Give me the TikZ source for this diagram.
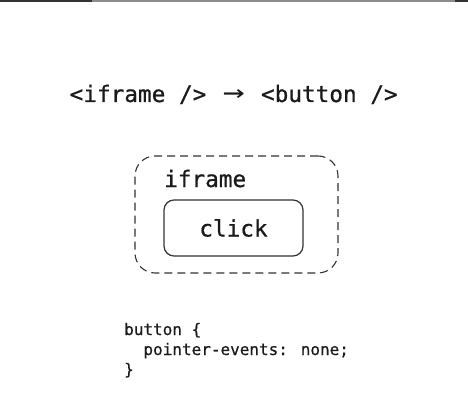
\documentclass[tikz,border=0pt]{standalone}
\usepackage{fontspec}
\newfontfamily\monof[FakeBold=0.7]{DejaVu Sans Mono}
\newfontfamily\codef[FakeBold=0.4]{DejaVu Sans Mono}
\newfontfamily\arrowf{DejaVu Sans Mono}
\definecolor{ink}{HTML}{1A1A1A}
\definecolor{edge}{HTML}{333333}
\begin{document}
\begin{tikzpicture}[x=1pt,y=-1pt,
  bigmono/.style={font=\monof\fontsize{22.7}{26}\selectfont, text=ink, inner sep=0pt},
  codemono/.style={font=\codef\fontsize{16}{20}\selectfont, text=ink, inner sep=0pt, anchor=base west},
  framebox/.style={draw=edge, line width=1.1pt, dash pattern=on 8pt off 5pt, rounded corners=20pt},
  btnbox/.style={draw=edge, line width=1.2pt, rounded corners=10pt}]
\useasboundingbox (0,0) rectangle (468,401);
\fill[white] (0,0) rectangle (468,401);
% top screen edge
\fill[black!45] (0,0) rectangle (468,2);
\fill[black!80] (0,0) rectangle (92,2);
\fill[black!80] (455,0) rectangle (468,2);
% header
\node[bigmono, anchor=base west] (head) at (69.5,102) {<iframe /> \makebox[1.204em]{\scalebox{1.6}[1.2]{\arrowf →}} <button />};
% frame
\node[framebox, minimum width=203pt, minimum height=117pt] (frame) at (236.5,214.5) {};
\node[bigmono, anchor=base west] (lbl) at (164,187) {iframe};
\node[btnbox, bigmono, minimum width=139pt, minimum height=56pt] (btn) at (233.5,228) {click};
% code
\node[codemono] (code1) at (124,335) {button \{};
\node[codemono] (code2) at (124,355) {\phantom{bu}pointer-events: none;};
\node[codemono] (code3) at (124,375) {\}};
\end{tikzpicture}
\end{document}
